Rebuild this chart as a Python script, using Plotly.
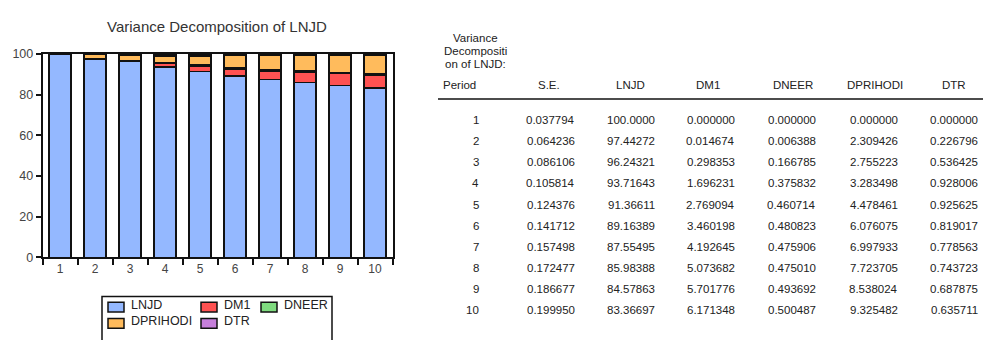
import plotly.graph_objects as go

# Forecast-error variance decomposition of LNJD (Cholesky ordering)
periods = [1, 2, 3, 4, 5, 6, 7, 8, 9, 10]
se = [0.037794, 0.064236, 0.086106, 0.105814, 0.124376, 0.141712, 0.157498, 0.172477, 0.186677, 0.199950]
lnjd = [100.0000, 97.44272, 96.24321, 93.71643, 91.36611, 89.16389, 87.55495, 85.98388, 84.57863, 83.36697]
dm1 = [0.000000, 0.014674, 0.298353, 1.696231, 2.769094, 3.460198, 4.192645, 5.073682, 5.701776, 6.171348]
dneer = [0.000000, 0.006388, 0.166785, 0.375832, 0.460714, 0.480823, 0.475906, 0.475010, 0.493692, 0.500487]
dprihodi = [0.000000, 2.309426, 2.755223, 3.283498, 4.478461, 6.076075, 6.997933, 7.723705, 8.538024, 9.325482]
dtr = [0.000000, 0.226796, 0.536425, 0.928006, 0.925625, 0.819017, 0.778563, 0.743723, 0.687875, 0.635711]

series_names = ["LNJD", "DM1", "DNEER", "DPRIHODI", "DTR"]
series_values = [lnjd, dm1, dneer, dprihodi, dtr]
series_colors = ["#94B8FF", "#FF5252", "#7FDB7F", "#FFBB5C", "#C67FDB"]
y_ticks = [0, 20, 40, 60, 80, 100]
table_headers = ["Period", "S.E.", "LNJD", "DM1", "DNEER", "DPRIHODI", "DTR"]

W, H = 983, 340
FONT = "Liberation Sans, Arial"
TXT = "#222222"


def px(x):
    return x / W


def py(y):
    return 1 - y / H


def fmt(v):
    # seven significant digits, EViews style
    return f"{v:.{7 - len(str(int(v)))}f}"


def label(x, y, text, anchor="center", size=11.5, color=TXT):
    return dict(x=px(x), y=py(y), xref="paper", yref="paper", showarrow=False,
                xanchor=anchor, yanchor="middle", text=text,
                font=dict(family=FONT, size=size, color=color))


fig = go.Figure()
cats = [str(p) for p in periods]
for name, vals, col in zip(series_names, series_values, series_colors):
    fig.add_trace(go.Bar(
        x=cats, y=vals, name=name, showlegend=False,
        marker=dict(color=col, line=dict(color="#111111", width=1.5)),
    ))

annotations = []
shapes = []

# chart title
annotations.append(label(217, 20, "Variance Decomposition of LNJD", size=15, color="#333333"))

# legend box and entries
shapes.append(dict(type="rect", xref="paper", yref="paper",
                   x0=px(102), x1=px(332), y0=py(302), y1=py(350),
                   line=dict(color="#111111", width=1.5), fillcolor="white"))
legend_pos = [(108, 313), (201, 313), (261, 313), (108, 330), (201, 330)]
for (lx, ly), name, col in zip(legend_pos, series_names, series_colors):
    shapes.append(dict(type="rect", xref="paper", yref="paper",
                       x0=px(lx), x1=px(lx + 16), y0=py(ly - 5), y1=py(ly + 5),
                       line=dict(color="#111111", width=1.5), fillcolor=col))
    annotations.append(label(lx + 21, ly - 2, name, anchor="left", size=12.5))

# table caption
for line, yy in zip(["Variance", "Decompositi", "on of LNJD:"], [32, 46, 59]):
    annotations.append(label(475, yy, line))

# table header
header_x = [458, 549, 630, 708, 793, 875, 954]
for i, (h, hx) in enumerate(zip(table_headers, header_x)):
    if i == 0:
        annotations.append(label(441, 81, h, anchor="left"))
    else:
        annotations.append(label(hx, 81, h))
shapes.append(dict(type="line", xref="paper", yref="paper",
                   x0=px(438), x1=1, y0=py(96), y1=py(96),
                   line=dict(color="#111111", width=1.5)))

# table body, right-aligned columns
col_right = [481, 577, 657, 737, 818, 900, 980]
columns = [[str(p) for p in periods]] + [[fmt(v) for v in c] for c in
                                         [se, lnjd, dm1, dneer, dprihodi, dtr]]
for r in range(len(periods)):
    ry = 118 + 22 * r
    for c, cx in enumerate(col_right):
        annotations.append(label(cx, ry, columns[c][r], anchor="right"))

fig.update_layout(
    width=W, height=H, margin=dict(l=0, r=0, t=0, b=0),
    paper_bgcolor="white", plot_bgcolor="white",
    barmode="stack", bargap=0.37,
    annotations=annotations, shapes=shapes,
    font=dict(family=FONT, size=12, color="#444444"),
    xaxis=dict(
        domain=[px(42.5), px(392.5)], type="category",
        tickson="boundaries", ticks="outside", ticklen=6, tickwidth=1.5,
        tickcolor="#111111", showline=True, linecolor="#111111", linewidth=1.5,
        mirror=True, showgrid=False, tickfont=dict(size=12, color="#444444"),
    ),
    yaxis=dict(
        domain=[py(261), py(49)], range=[0, 100], tickvals=y_ticks,
        ticks="outside", ticklen=5, tickwidth=1.5, tickcolor="#111111",
        showline=True, linecolor="#111111", linewidth=1.5, mirror=True,
        showgrid=False, zeroline=False, tickfont=dict(size=12.5, color="#444444"),
    ),
)

fig.write_html("out.html")
